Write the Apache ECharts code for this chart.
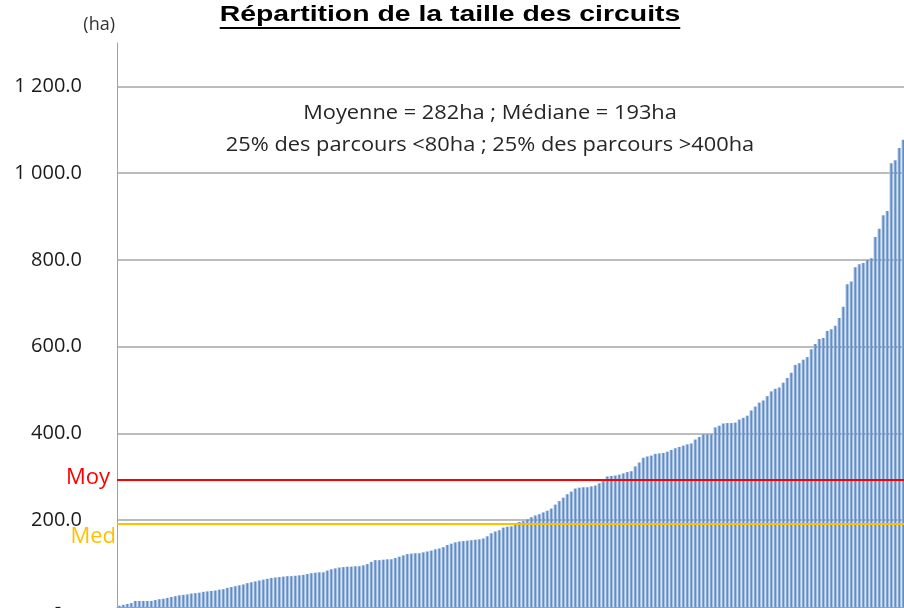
<!DOCTYPE html>
<html><head><meta charset="utf-8">
<script src="https://cdn.jsdelivr.net/npm/echarts@6/dist/echarts.min.js"></script>
<style>html,body{margin:0;padding:0;background:#fff}#c{width:904px;height:608px}</style>
</head><body><div id="c"></div>
<script>
const titleText = 'Répartition de la taille des circuits';
const noteLines = ['Moyenne = 282ha ; Médiane = 193ha', '25% des parcours <80ha ; 25% des parcours >400ha'];
const unitLabel = '(ha)';
const surfaces = [
  3, 5, 7, 9, 14, 14, 14, 14, 14, 16,
  18, 19, 21, 23, 25, 27, 28, 29, 31, 32,
  33, 35, 36, 37, 38, 40, 41, 44, 46, 48,
  50, 52, 55, 57, 59, 61, 63, 65, 67, 68,
  69, 70, 71, 71, 72, 73, 74, 76, 78, 79,
  80, 80, 84, 87, 89, 91, 92, 93, 93, 94,
  94, 96, 99, 104, 108, 108, 109, 110, 110, 113,
  116, 119, 122, 123, 124, 124, 126, 128, 130, 133,
  135, 138, 143, 146, 149, 151, 152, 153, 154, 155,
  156, 158, 163, 170, 174, 177, 183, 185, 186, 193,
  196, 198, 202, 207, 211, 214, 218, 222, 227, 236,
  244, 252, 260, 266, 273, 275, 276, 276, 278, 280,
  285, 290, 301, 302, 303, 305, 308, 311, 313, 324,
  333, 344, 347, 349, 353, 354, 355, 358, 362, 366,
  369, 372, 375, 377, 386, 392, 398, 398, 398, 414,
  418, 423, 424, 424, 425, 432, 436, 441, 453, 462,
  471, 476, 486, 497, 503, 506, 517, 528, 540, 558,
  562, 570, 576, 594, 606, 618, 620, 636, 640, 648,
  666, 692, 744, 750, 783, 790, 793, 800, 804, 853,
  872, 903, 913, 1023, 1030, 1058, 1077
];
const circuits = surfaces.map((_, i) => String(i + 1));
const yMin = 0, yMax = 1300, yStep = 200;
const refNames = ['Moy', 'Med'];
const refValues = [293, 192];
const refColors = ['#ff0000', '#ffc000'];

function fmt(v) {
  if (v === 0) return '-    ';
  const s = v.toFixed(1);
  const [ip, dp] = s.split('.');
  return ip.replace(/\B(?=(\d{3})+(?!\d))/g, ' ') + '.' + dp;
}

const titleFont = 'bold 22px "Liberation Sans"';
const titleScale = 1.29;
const cv = document.createElement('canvas').getContext('2d');
cv.font = titleFont;
const tw = cv.measureText(titleText).width * titleScale;
const tcx = 450;

const chart = echarts.init(document.getElementById('c'), null, {renderer: 'canvas'});
chart.setOption({
  animation: false,
  backgroundColor: '#ffffff',
  grid: {left: 117, top: 43, width: 788, height: 564, containLabel: false, outerBoundsMode: 'none'},
  xAxis: {
    type: 'category', data: circuits,
    axisLine: {show: true, lineStyle: {color: '#a0a0a0', width: 1}},
    axisTick: {show: false}, axisLabel: {show: false}, splitLine: {show: false}
  },
  yAxis: {
    type: 'value', min: yMin, max: yMax, interval: yStep,
    name: unitLabel, nameLocation: 'end', nameGap: 18,
    nameTextStyle: {fontFamily: 'Open Sans', fontSize: 18, color: '#333', align: 'right', verticalAlign: 'middle', padding: [0, 2, 0, 0]},
    axisLine: {show: true, lineStyle: {color: '#a0a0a0', width: 1}},
    axisTick: {show: false},
    axisLabel: {formatter: fmt, showMaxLabel: false, margin: 35, fontFamily: 'Open Sans', fontSize: 20, color: '#1a1a1a'},
    splitLine: {show: true, showMaxLine: false, showMinLine: false, lineStyle: {color: '#a6a6a6', width: 1.5}}
  },
  series: [{
    type: 'bar', data: surfaces, barCategoryGap: '28%',
    itemStyle: {color: {type: 'linear', x: 0, y: 0, x2: 1, y2: 0, colorStops: [
      {offset: 0, color: '#a6c2e5'}, {offset: 1, color: '#3f73b6'}]}},
    markLine: {
      silent: true, symbol: 'none', animation: false,
      data: refValues.map((v, i) => ({
        yAxis: v,
        lineStyle: {color: refColors[i], width: 2, type: 'solid'},
        label: {
          show: true, position: 'start', formatter: refNames[i],
          color: refColors[i], fontFamily: 'Open Sans', fontSize: 22,
          distance: i === 0 ? 7 : 1, offset: i === 0 ? [0, -2] : [0, 13]
        }
      }))
    }
  }],
  graphic: [
    {type: 'text', x: tcx, y: 15, scaleX: titleScale, style: {text: titleText, font: titleFont, fill: '#000', align: 'center', verticalAlign: 'middle'}},
    {type: 'line', shape: {x1: tcx - tw / 2, y1: 28, x2: tcx + tw / 2, y2: 28}, style: {stroke: '#000', lineWidth: 2}},
    {type: 'text', x: 490, y: 129, scaleX: 1.09, style: {text: noteLines.join('\n'), font: '20px "Open Sans"', fill: '#262626', align: 'center', verticalAlign: 'middle', lineHeight: 32}}
  ]
});
</script></body></html>
